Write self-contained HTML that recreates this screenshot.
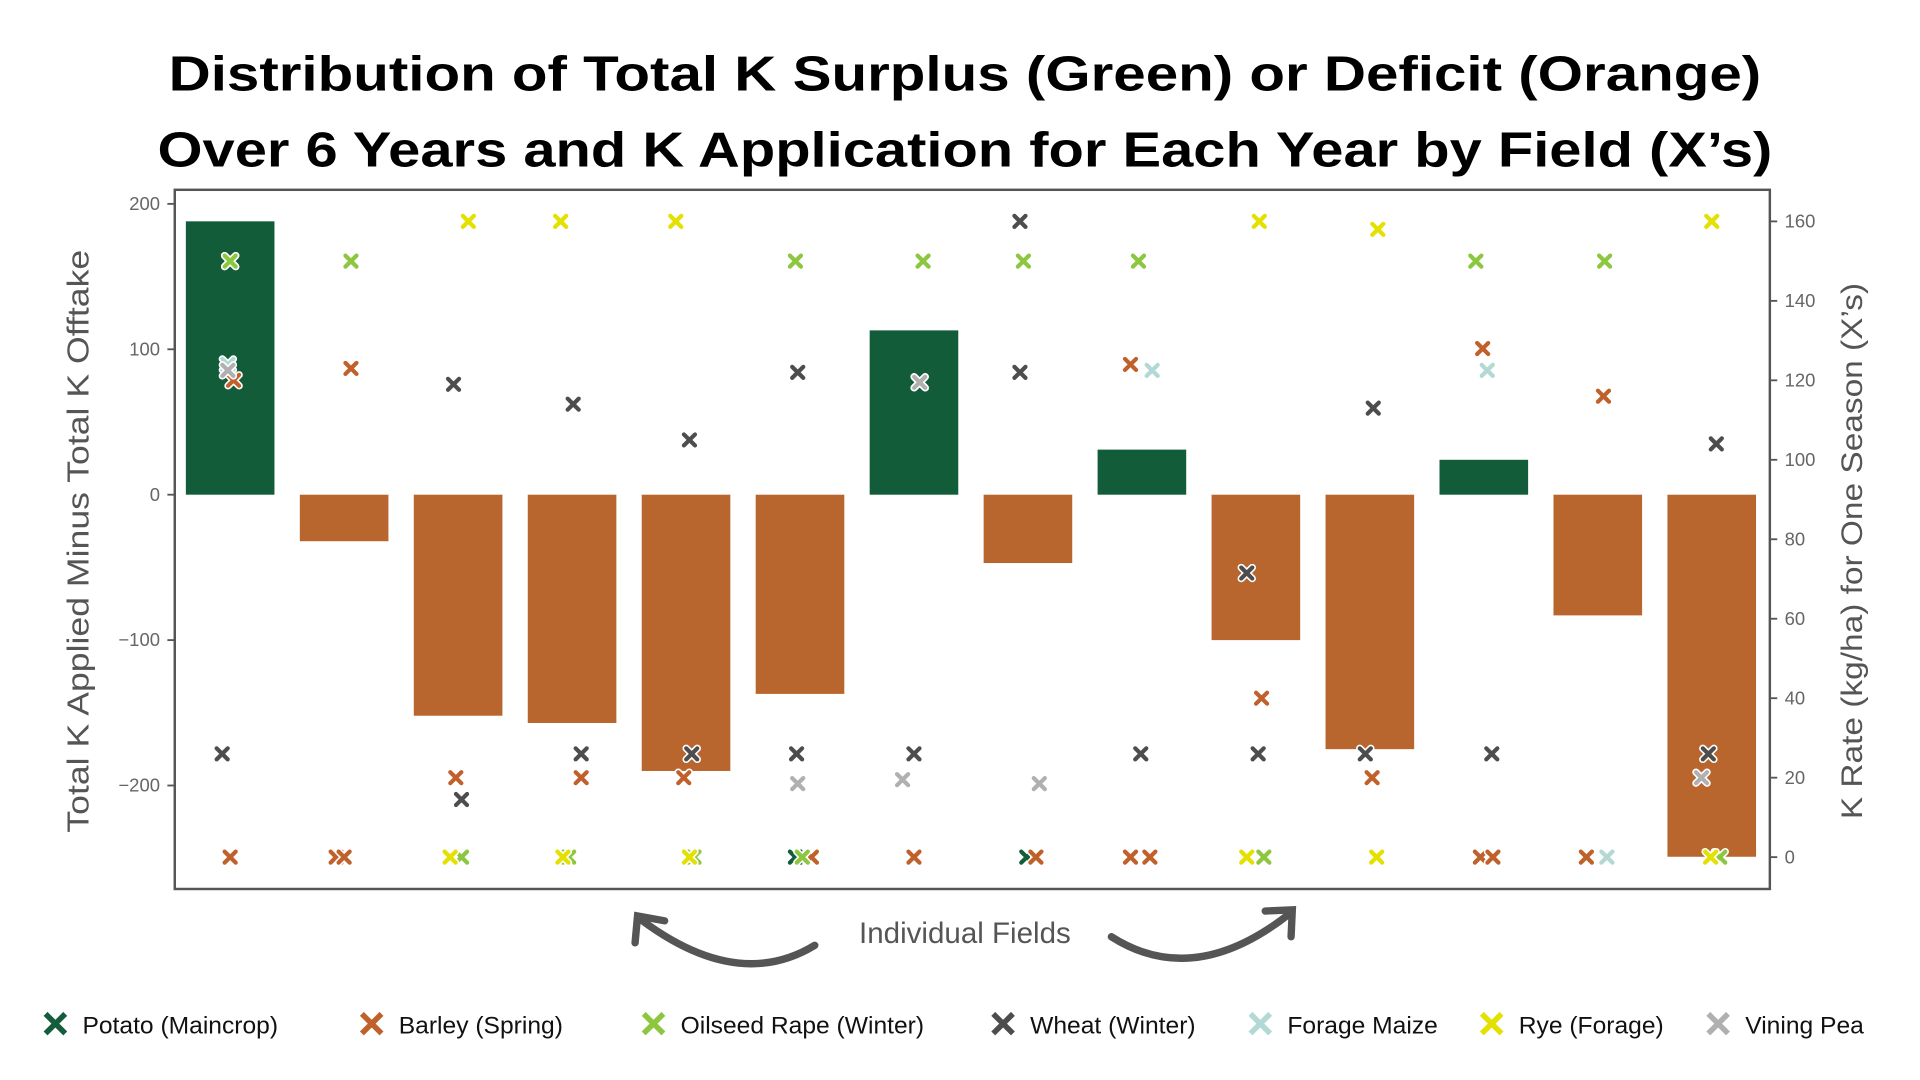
<!DOCTYPE html>
<html><head><meta charset="utf-8"><style>
html,body{margin:0;padding:0;background:#fff;}
svg{display:block;font-family:"Liberation Sans",sans-serif;}
</style></head><body>
<svg id="chart" width="1920" height="1080" viewBox="0 0 1560 882" preserveAspectRatio="none" xmlns="http://www.w3.org/2000/svg">
<rect width="1560" height="882" fill="#ffffff"/>
<text x="784" y="74" text-anchor="middle" font-size="40" font-weight="bold" textLength="1294" lengthAdjust="spacingAndGlyphs">Distribution of Total K Surplus (Green) or Deficit (Orange)</text>
<text x="784" y="136" text-anchor="middle" font-size="40" font-weight="bold" textLength="1312" lengthAdjust="spacingAndGlyphs">Over 6 Years and K Application for Each Year by Field (X’s)</text>
<g id="plot"></g>
<text transform="translate(72,442) rotate(-90)" text-anchor="middle" font-size="25" fill="#555" textLength="476" lengthAdjust="spacingAndGlyphs">Total K Applied Minus Total K Offtake</text>
<text transform="translate(1513,450) rotate(-90)" text-anchor="middle" font-size="24" fill="#555" textLength="438" lengthAdjust="spacingAndGlyphs">K Rate (kg/ha) for One Season (X’s)</text>
<text x="784" y="770" text-anchor="middle" font-size="24" fill="#555">Individual Fields</text>
<g fill="none" stroke="#555" stroke-width="6" stroke-linecap="round">
<path d="M662,772 Q600,810 522,752"/><path d="M516,770 L518,748 L540,752"/>
</g>
<g fill="none" stroke="#555" stroke-width="6" stroke-linecap="round">
<path d="M903,765 Q970,808 1048,746"/><path d="M1028,744 L1050,743 L1049,765"/>
</g>
<g id="legend"></g>
</svg>
<script>
const fields = [1,2,3,4,5,6,7,8,9,10,11,12,13,14];
const balance = [188,-32,-152,-157,-190,-137,113,-47,31,-100,-175,24,-83,-249];
const leftTicks = [200,100,0,-100,-200];
const rightTicks = [0,20,40,60,80,100,120,140,160];
const crops = ["Potato (Maincrop)","Barley (Spring)","Oilseed Rape (Winter)","Wheat (Winter)","Forage Maize","Rye (Forage)","Vining Pea"];
const cropColors = ["#145c3a","#c0612b","#8dc63f","#4d4d4d","#b3d9d4","#e4e000","#b0b0b0"];
// points: [fieldIndex, xOffsetInFieldUnits, rate]
const potatoPts = [[0,0,150],[5,-0.04,0],[7,-0.01,0]];
const barleyPts = [[0,0.03,120],[0,0,0],[1,0.06,123],[1,-0.07,0],[1,0.0,0],[2,-0.02,20],[3,0.08,20],[4,-0.02,20],[5,0.1,0],[6,0,0],[7,0.07,0],[8,-0.1,124],[8,-0.1,0],[8,0.07,0],[9,0.05,40],[10,0.02,20],[11,-0.01,128],[11,-0.03,0],[11,0.08,0],[12,0.05,116],[12,-0.1,0]];
const oilseedPts = [[0,0,150],[1,0.06,150],[2,0.03,0],[3,-0.03,0],[4,0.07,0],[5,-0.04,150],[5,0.02,0],[6,0.08,150],[7,-0.04,150],[8,-0.03,150],[9,0.07,0],[11,-0.07,150],[12,0.06,150],[13,0.07,0]];
const wheatPts = [[0,-0.07,26],[2,-0.04,119],[2,0.03,14.5],[3,0.01,114],[3,0.08,26],[4,0.03,105],[4,0.05,26],[5,-0.02,122],[5,-0.03,26],[6,0.05,119.5],[6,0,26],[7,-0.07,160],[7,-0.07,122],[8,-0.01,26],[9,-0.08,71.5],[9,0.02,26],[10,0.03,113],[10,-0.04,26],[11,0.07,26],[13,0.04,104],[13,-0.03,26]];
const maizePts = [[0,-0.02,124],[8,0.09,122.5],[11,0.03,122.5],[12,0.08,0]];
const ryePts = [[2,0.09,160],[2,-0.07,0],[3,-0.1,160],[3,-0.08,0],[4,-0.09,160],[4,0.03,0],[9,0.03,160],[9,-0.08,0],[10,0.07,158],[10,0.06,0],[13,0,160],[13,-0.01,0]];
const peaPts = [[0,-0.02,122.5],[5,-0.02,18.5],[6,-0.1,19.5],[6,0.05,119.5],[7,0.1,18.5],[13,-0.09,20]];
const seriesPts = [potatoPts,barleyPts,oilseedPts,wheatPts,maizePts,ryePts,peaPts];

const NS="http://www.w3.org/2000/svg";
const PL=142,PR=1438,PT=155,PB=726;
const yL=v=>404-v*1.1875;
const yR=v=>700-v*3.245;
const xC=i=>187+i*92.6;
const BW=72;
const plot=document.getElementById('plot');
function mk(tag,attrs,parent){const e=document.createElementNS(NS,tag);for(const k in attrs)e.setAttribute(k,attrs[k]);(parent||plot).appendChild(e);return e;}

const frame=mk('rect',{x:PL,y:PT,width:PR-PL,height:PB-PT,fill:'#fff',stroke:'#555','stroke-width':2});



balance.forEach((v,i)=>{
  const y0=yL(0),y1=yL(v);
  const r=mk('rect',{x:xC(i)-BW/2,y:Math.min(y0,y1),width:BW,height:Math.abs(y1-y0),fill:v>=0?'#135c3a':'#b9652e'});
  
  
});

leftTicks.forEach(t=>{
  const y=yL(t);
  const l=mk('line',{x1:PL-6,x2:PL,y1:y,y2:y,stroke:'#555','stroke-width':1.5});
  
  
  const tx=mk('text',{x:PL-12,y:y+5,'text-anchor':'end','font-size':15,fill:'#666'});
  tx.textContent=t===0?'0':(t<0?'−'+(-t):String(t));
  
  
});
rightTicks.forEach(t=>{
  const y=yR(t);
  const l=mk('line',{x1:PR,x2:PR+6,y1:y,y2:y,stroke:'#555','stroke-width':1.5});
  
  
  const tx=mk('text',{x:PR+12,y:y+5,'text-anchor':'start','font-size':15,fill:'#666'});
  tx.textContent=String(t);
  
  
});

function cross(x,y,s,color,parent){
  const g=mk('g',{},parent);
  const d=`M${x-s},${y-s}L${x+s},${y+s}M${x+s},${y-s}L${x-s},${y+s}`;
  mk('path',{d:d,stroke:'#fff','stroke-width':6,'stroke-linecap':'round',fill:'none'},g);
  mk('path',{d:d,stroke:color,'stroke-width':3.4,'stroke-linecap':'round',fill:'none'},g);
  return g;
}
seriesPts.forEach((pts,si)=>{
  pts.forEach(p=>{
    const g=cross(xC(p[0])+p[1]*92.6,yR(p[2]),4.5,cropColors[si]);
    
    
  });
});

const legend=document.getElementById('legend');
const legX=[45,302,531,815,1024,1212,1396];
crops.forEach((c,i)=>{
  const g=mk('g',{},legend);
  
  
  const d=`M${legX[i]-8},${828}L${legX[i]+8},${844}M${legX[i]+8},${828}L${legX[i]-8},${844}`;
  mk('path',{d:d,stroke:cropColors[i],'stroke-width':4.5,fill:'none'},g);
  const t=mk('text',{x:legX[i]+22,y:844,'font-size':20,fill:'#111'},g);
  t.textContent=c;
});
</script>
</body></html>
